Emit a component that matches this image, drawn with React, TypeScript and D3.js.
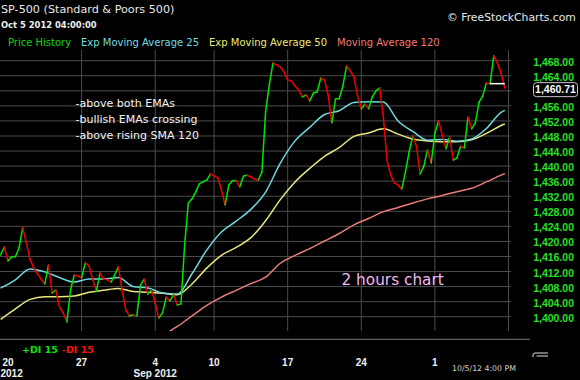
import React from "react";
import * as d3 from "d3";

// 2-hour bars, Aug 17 2012 (afternoon) .. Oct 5 2012 close
const priceHistory: number[] = [
  1416.4, 1418.5, 1414.8, 1415.9, 1415.9, 1418.3, 1423.6, 1419.6, 1415.3, 1412.9,
  1411.4, 1410.0, 1408.7, 1413.7, 1406.3, 1407.1, 1402.6, 1401.0, 1398.6, 1407.1,
  1411.1, 1410.8, 1410.3, 1414.3, 1413.5, 1410.0, 1406.8, 1411.6, 1410.0, 1409.8,
  1409.2, 1411.1, 1413.2, 1407.1, 1401.8, 1400.2, 1400.5, 1400.2, 1408.4, 1410.0,
  1406.0, 1407.1, 1403.6, 1399.7, 1401.0, 1405.2, 1404.2, 1405.8, 1403.1, 1403.4,
  1419.1, 1430.2, 1431.3, 1433.1, 1435.3, 1435.8, 1436.3, 1437.9, 1437.4, 1436.9,
  1433.7, 1429.7, 1435.0, 1436.1, 1436.2, 1434.5, 1437.4, 1437.6, 1437.1, 1436.6,
  1436.3, 1438.4, 1454.4, 1461.5, 1467.4, 1466.9, 1466.3, 1465.0, 1462.9, 1462.6,
  1461.3, 1460.2, 1458.4, 1458.9, 1457.3, 1459.4, 1459.7, 1463.4, 1462.9, 1458.9,
  1451.5, 1457.8, 1457.9, 1461.3, 1466.6, 1465.3, 1463.7, 1458.6, 1455.2, 1456.5,
  1455.2, 1458.4, 1460.0, 1460.8, 1453.0, 1441.6, 1437.6, 1435.5, 1435.0, 1433.9,
  1438.4, 1443.8, 1448.0, 1445.3, 1437.9, 1440.0, 1444.3, 1440.8, 1448.8, 1452.0,
  1448.3, 1444.6, 1447.7, 1441.6, 1442.2, 1445.3, 1444.8, 1453.0, 1449.9, 1451.5,
  1457.0, 1458.6, 1462.1, 1461.9, 1469.3, 1467.4, 1464.7, 1460.71,
];

// Moving averages read once per trading day (every 4th bar) plus the last bar
const maBars: number[] = d3.range(0, 137, 4).concat([137]);
const ema25: number[] = [
  1407.6, 1409.8, 1412.7, 1411.9, 1410.4, 1409.2, 1410.0, 1410.0, 1410.4, 1408.0,
  1407.6, 1406.3, 1406.0, 1411.4, 1417.7, 1422.5, 1425.4, 1428.5, 1433.1, 1440.8,
  1446.7, 1450.3, 1453.7, 1454.7, 1456.9, 1457.1, 1457.0, 1452.0, 1449.2, 1446.9,
  1447.1, 1446.6, 1447.2, 1450.0, 1454.3, 1454.8,
];
const ema50: number[] = [
  1399.3, 1402.1, 1404.6, 1405.3, 1405.3, 1405.5, 1406.5, 1407.0, 1407.5, 1406.7,
  1406.5, 1406.2, 1405.8, 1408.7, 1412.9, 1416.3, 1418.4, 1421.0, 1425.5, 1431.1,
  1435.8, 1439.4, 1442.6, 1444.9, 1447.9, 1448.8, 1449.9, 1448.5, 1447.2, 1446.7,
  1446.5, 1446.5, 1447.0, 1448.7, 1450.8, 1451.2,
];
const sma120: (number | null)[] = [
  null, null, null, null, null, null, null, null, null, null,
  null, 1395.0, 1397.4, 1400.2, 1403.0, 1405.2, 1407.0, 1408.8, 1410.5, 1414.2,
  1416.3, 1418.1, 1420.1, 1422.1, 1424.4, 1426.1, 1427.9, 1429.0, 1430.2, 1431.3,
  1432.2, 1433.2, 1434.1, 1435.8, 1437.6, 1438.0,
];

const weekTickBars: number[] = [2, 22, 42, 58, 78, 98, 118, 138];
const weekTickLabels: string[] = ["20", "27", "4", "10", "17", "24", "1", ""];
const monthBars: number[] = [2, 42];
const monthLabels: string[] = ["2012", "Sep 2012"];
const yTickValues: number[] = d3.range(1400, 1469, 4);
const lastPrice = 1460.71;
const markerPrice = 1461.9;

const legendItems: string[] = [
  "Price History",
  "Exp Moving Average 25",
  "Exp Moving Average 50",
  "Moving Average 120",
];

const C = {
  up: "#00e400",
  down: "#ee0000",
  ema25: "#6fd8df",
  ema50: "#e8e67e",
  sma120: "#e87c7c",
  grid: "#4d4d4d",
  axisText: "#26e026",
  legend: ["#16d016", "#70dce4", "#eaea78", "#f07a7a"],
};

const DV = "'DejaVu Sans', Verdana, sans-serif";
const LIB = "'Liberation Sans', Arial, sans-serif";

export default function App() {
  const W = 580;
  const H = 380;
  const plotTop = 50;
  const plotBottom = 331;
  const plotRight = 511;

  const x = d3.scaleLinear().domain([0, 137]).range([0.64, 504.8]);
  const y = d3.scaleLinear().domain([1400, 1468]).range([316.7, 60.7]);

  const maLine = d3
    .line<number | null>()
    .defined((d) => d !== null)
    .x((_, i) => x(maBars[i]))
    .y((d) => y(d as number))
    .curve(d3.curveMonotoneX);

  const boxY = y(lastPrice);
  const legendX = [8, 81, 209, 337];

  return (
    <svg
      width={W}
      height={H}
      style={{ position: "absolute", left: 0, top: 0, display: "block", background: "#000" }}
    >
      <defs>
        <clipPath id="plotClip">
          <rect x={0} y={plotTop} width={plotRight} height={plotBottom - plotTop} />
        </clipPath>
      </defs>
      <rect x={0} y={0} width={W} height={H} fill="#000" />

      {/* grid */}
      {yTickValues.map((v) => (
        <line key={"h" + v} x1={0} x2={plotRight} y1={y(v)} y2={y(v)} stroke={C.grid} strokeWidth={1} />
      ))}
      {weekTickBars.slice(1).map((b) => (
        <line key={"v" + b} x1={x(b)} x2={x(b)} y1={plotTop} y2={plotBottom} stroke={C.grid} strokeWidth={1} />
      ))}

      <g clipPath="url(#plotClip)">
        <path d={maLine(sma120) || ""} fill="none" stroke={C.sma120} strokeWidth={1.5} />
        <path d={maLine(ema50) || ""} fill="none" stroke={C.ema50} strokeWidth={1.5} />
        <path d={maLine(ema25) || ""} fill="none" stroke={C.ema25} strokeWidth={1.5} />
        {priceHistory.slice(1).map((v, k) => {
          const prev = priceHistory[k];
          return (
            <line
              key={"p" + k}
              x1={x(k)}
              y1={y(prev)}
              x2={x(k + 1)}
              y2={y(v)}
              stroke={v >= prev ? C.up : C.down}
              strokeWidth={1.5}
              strokeLinecap="round"
            />
          );
        })}
        <line
          x1={x(133)}
          x2={x(137)}
          y1={y(markerPrice)}
          y2={y(markerPrice)}
          stroke="#ffffff"
          strokeWidth={1.5}
        />
      </g>

      {/* header */}
      <text x={1} y={12.7} fill="#e8e8e8" fontFamily={DV} fontSize={11.2}>
        SP-500 (Standard &amp; Poors 500)
      </text>
      <text x={1} y={28.3} fill="#f0f0f0" fontFamily={DV} fontSize={8.4} fontWeight="bold">
        Oct 5 2012 04:00:00
      </text>
      <text x={447} y={20.7} fill="#e8e8e8" fontFamily={DV} fontSize={10.8}>
        © FreeStockCharts.com
      </text>
      {legendItems.map((t, i) => (
        <text key={t} x={legendX[i]} y={46} fill={C.legend[i]} fontFamily={DV} fontSize={10}>
          {t}
        </text>
      ))}

      {/* annotations */}
      {["-above both EMAs", "-bullish EMAs crossing", "-above rising SMA 120"].map((t, i) => (
        <text key={t} x={75.5} y={107.3 + i * 16} fill="#f2f2f2" fontFamily={DV} fontSize={11}>
          {t}
        </text>
      ))}
      <text x={341.5} y={285} fill="#f2b8ee" fontFamily={DV} fontSize={15.3}>
        2 hours chart
      </text>

      {/* y axis labels */}
      {yTickValues
        .filter((v) => Math.abs(y(v) - boxY) > 8)
        .map((v) => (
          <text
            key={"yl" + v}
            x={574}
            y={y(v) + 5}
            textAnchor="end"
            fill={C.axisText}
            fontFamily={LIB}
            fontSize={10.5}
            fontWeight="bold"
          >
            {d3.format(",.2f")(v)}
          </text>
        ))}
      <rect x={533.5} y={boxY - 5.5} width={44} height={14} rx={3} fill="#000" stroke="#c8c8c8" strokeWidth={1} />
      <text
        x={555.5}
        y={boxY + 5.2}
        textAnchor="middle"
        fill="#ffffff"
        fontFamily={LIB}
        fontSize={10.5}
        fontWeight="bold"
      >
        {d3.format(",.2f")(lastPrice)}
      </text>

      {/* bottom separator and DI legend */}
      <line x1={0} x2={530} y1={339.3} y2={339.3} stroke="#7a7a7a" strokeWidth={1} />
      <text x={22} y={352.7} fill="#10e010" fontFamily={DV} fontSize={9.5} fontWeight="bold">
        +DI 15
      </text>
      <text x={62} y={352.7} fill="#ff1010" fontFamily={DV} fontSize={9.5} fontWeight="bold">
        -DI 15
      </text>

      {/* x axis labels */}
      {weekTickBars.map((b, i) =>
        weekTickLabels[i] ? (
          <text
            key={"xl" + b}
            x={x(b)}
            y={366.3}
            textAnchor="middle"
            fill="#f0f0f0"
            fontFamily={LIB}
            fontSize={10}
            fontWeight="bold"
          >
            {weekTickLabels[i]}
          </text>
        ) : null
      )}
      {monthBars.map((b, i) => (
        <text
          key={"ml" + b}
          x={i === 0 ? 0.5 : x(b)}
          y={377.3}
          textAnchor={i === 0 ? "start" : "middle"}
          fill="#f0f0f0"
          fontFamily={LIB}
          fontSize={10}
          fontWeight="bold"
        >
          {monthLabels[i]}
        </text>
      ))}
      <text x={452} y={371} fill="#d0d0d0" fontFamily={DV} fontSize={7.8}>
        10/5/12 4:00 PM
      </text>
      <path d="M533,357 V355 Q533,353 535,353 H548 M536.5,356 H548" fill="none" stroke="#e0e0e0" strokeWidth={1} />
    </svg>
  );
}
